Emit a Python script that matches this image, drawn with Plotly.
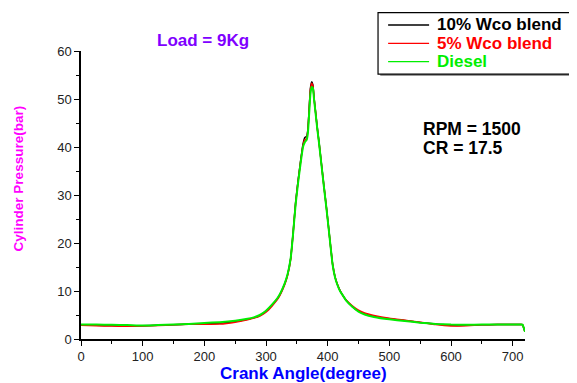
import plotly.graph_objects as go

# Crank angle (degree)
angle = [0, 25, 50, 75, 100, 125, 150, 175, 200, 225, 250, 270, 280, 290, 300,
         310, 320, 330, 335, 340, 344, 348, 352, 356, 360, 363, 366, 368, 370,
         372, 374, 376, 378, 380, 383, 386, 390, 394, 398, 402, 405, 408, 412,
         416, 420, 425, 430, 440, 450, 460, 475, 500, 525, 550, 575, 600, 625,
         650, 675, 700, 710, 716, 718, 720]

# Cylinder pressure (bar)
p_wco10 = [2.9, 2.85, 2.8, 2.75, 2.75, 2.85, 2.95, 3.1, 3.2, 3.3, 3.65, 4.1, 4.4, 4.9, 5.8,
           7.1, 8.7, 11.4, 13.4, 16.8, 22.2, 28.4, 33.0, 37.0, 40.6, 42.0, 42.2, 43.8, 48.0,
           52.2, 53.6, 53.0, 50.2, 47.8, 44.2, 41.0, 36.4, 31.8, 27.4, 22.6, 19.0, 15.6, 12.9,
           11.3, 10.1, 9.0, 8.1, 6.75, 5.8, 5.2, 4.7, 4.2, 3.85, 3.45, 3.1, 2.85, 2.85,
           2.95, 3.0, 3.0, 3.0, 3.0, 2.3, 1.5]
p_wco5 = [2.85, 2.75, 2.7, 2.65, 2.7, 2.8, 2.95, 3.05, 3.05, 3.1, 3.5, 4.0, 4.35, 4.8, 5.6,
          6.9, 8.5, 11.2, 13.2, 16.6, 22.0, 28.2, 32.8, 36.8, 40.3, 41.5, 41.8, 43.6, 47.8,
          51.9, 53.3, 52.8, 50.0, 47.7, 44.1, 40.9, 36.3, 31.7, 27.3, 22.6, 19.0, 15.6, 12.9,
          11.3, 10.1, 9.0, 8.1, 6.9, 6.0, 5.4, 4.9, 4.3, 3.9, 3.5, 3.0, 2.7, 2.75,
          2.95, 3.0, 3.0, 3.0, 3.0, 2.3, 1.5]
p_diesel = [3.0, 3.0, 2.95, 2.9, 2.8, 2.9, 3.0, 3.15, 3.35, 3.5, 3.8, 4.2, 4.5, 5.0, 5.9,
            7.2, 8.8, 11.5, 13.5, 16.8, 22.0, 28.0, 32.5, 36.5, 40.0, 41.0, 41.5, 43.0, 47.0,
            51.0, 52.5, 52.3, 49.8, 47.5, 44.0, 40.8, 36.2, 31.6, 27.2, 22.5, 18.9, 15.5, 12.8,
            11.2, 10.0, 9.0, 8.0, 6.7, 5.7, 5.1, 4.6, 4.1, 3.75, 3.4, 3.15, 3.0, 2.95,
            3.0, 3.0, 3.0, 3.0, 3.0, 2.3, 1.5]

series_names = ["10% Wco blend", "5% Wco blend", "Diesel"]
series_colors = ["#000000", "#ff0000", "#00ee00"]
series_widths = [1.5, 1.5, 2]
series_values = [p_wco10, p_wco5, p_diesel]

x_ticks = [0, 100, 200, 300, 400, 500, 600, 700]
y_ticks = [0, 10, 20, 30, 40, 50, 60]

FONT = "Arial, Liberation Sans, sans-serif"

fig = go.Figure()
for name, color, width, vals in zip(series_names, series_colors, series_widths, series_values):
    fig.add_trace(go.Scatter(
        x=angle, y=vals, mode="lines", name=name,
        line=dict(color=color, width=width, shape="spline", smoothing=0.4),
        showlegend=False,
    ))

axis_common = dict(
    showgrid=False, zeroline=False, showline=True, linecolor="black", linewidth=1.5,
    ticks="outside", ticklen=5, tickwidth=1, tickcolor="black",
    tickfont=dict(family=FONT, size=13, color="#222222"),
    mirror=False,
)

# Hand-built legend box (paper coordinates relative to plot area)
leg_x0, leg_x1, leg_y0, leg_y1 = 0.669, 1.1125, 0.920, 1.133
shapes = [
    dict(type="rect", xref="paper", yref="paper", layer="above",
         x0=leg_x0 + 0.005, x1=leg_x1 + 0.005, y0=leg_y0 - 0.007, y1=leg_y1 - 0.007,
         fillcolor="#9a9a9a", line=dict(width=0)),
    dict(type="rect", xref="paper", yref="paper", layer="above",
         x0=leg_x0, x1=leg_x1, y0=leg_y0, y1=leg_y1,
         fillcolor="white", line=dict(color="black", width=1.2)),
]
row_y = [1.0903, 1.0267, 0.9628]
annotations = []
for name, color, yy in zip(series_names, series_colors, row_y):
    shapes.append(dict(type="line", xref="paper", yref="paper", layer="above",
                       x0=0.6917, x1=0.784, y0=yy, y1=yy,
                       line=dict(color=color, width=1.3)))
    annotations.append(dict(text=f"<b>{name}</b>", x=0.7975, y=yy, xref="paper", yref="paper",
                            xanchor="left", yanchor="middle", showarrow=False,
                            font=dict(family=FONT, size=17, color=color)))

annotations += [
    dict(text="<b>Load = 9Kg</b>", x=0.275, y=1.036, xref="paper", yref="paper",
         xanchor="center", yanchor="middle",
         showarrow=False, font=dict(family=FONT, size=17, color="#8000ff")),
    dict(text="<b>RPM = 1500</b>", x=0.765, y=0.729, xref="paper", yref="paper",
         xanchor="left", yanchor="middle",
         showarrow=False, font=dict(family=FONT, size=17.5, color="black")),
    dict(text="<b>CR = 17.5</b>", x=0.765, y=0.662, xref="paper", yref="paper",
         xanchor="left", yanchor="middle",
         showarrow=False, font=dict(family=FONT, size=17.5, color="black")),
    dict(text="<b>Cylinder Pressure(bar)</b>", x=-0.141, y=0.559, xref="paper", yref="paper",
         xanchor="center", yanchor="middle",
         textangle=-90, showarrow=False, font=dict(family=FONT, size=13.5, color="#ff00ff")),
    dict(text="<b>Crank Angle(degree)</b>", x=0.5, y=-0.1215, xref="paper", yref="paper",
         xanchor="center", yanchor="middle",
         showarrow=False, font=dict(family=FONT, size=17, color="#0000ff")),
]

# page body has an 8px margin, so the figure is 8px smaller and margins shifted
fig.update_layout(
    width=569, height=375,
    margin=dict(l=73, r=52, t=43, b=44, autoexpand=False),
    paper_bgcolor="white", plot_bgcolor="white",
    font=dict(family=FONT),
    xaxis=dict(range=[0, 720], tickvals=x_ticks,
               minor=dict(dtick=50, tick0=0, ticks="outside", ticklen=3, tickcolor="black"),
               **axis_common),
    yaxis=dict(range=[0, 60], tickvals=y_ticks,
               minor=dict(dtick=5, tick0=0, ticks="outside", ticklen=3, tickcolor="black"),
               **axis_common),
    showlegend=False,
    shapes=shapes,
    annotations=annotations,
)

fig.write_html("out.html")
